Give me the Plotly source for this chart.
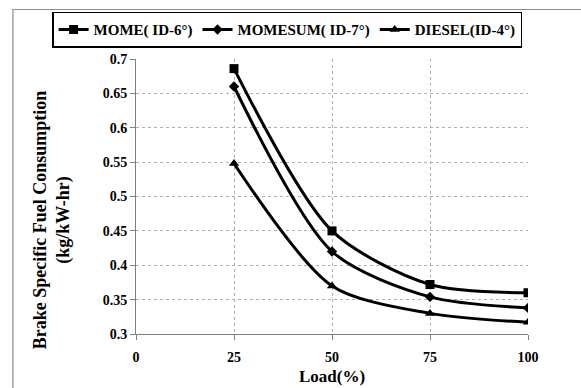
import plotly.graph_objects as go

load = [25, 50, 75, 100]
mome = [0.686, 0.450, 0.372, 0.360]
momesum = [0.660, 0.420, 0.354, 0.338]
diesel = [0.548, 0.370, 0.330, 0.317]
names = ["MOME( ID-6°)", "MOMESUM( ID-7°)", "DIESEL(ID-4°)"]
symbols = ["square", "diamond", "triangle-up"]
sizes = [9, 8, 9]
x_ticks = [0, 25, 50, 75, 100]
y_ticks = [0.3, 0.35, 0.4, 0.45, 0.5, 0.55, 0.6, 0.65, 0.7]
y_labels = ["0.3", "0.35", "0.4", "0.45", "0.5", "0.55", "0.6", "0.65", "0.7"]
y_title = "Brake Specific Fuel Consumption<br>(kg/kW-hr)"
x_title = "Load(%)"

FONT = "Liberation Serif"

fig = go.Figure()
for ys, nm, sym, sz in zip([mome, momesum, diesel], names, symbols, sizes):
    fig.add_trace(go.Scatter(
        x=load, y=ys, name="<b>" + nm + "</b>", mode="lines+markers",
        line=dict(color="black", width=3, shape="spline", smoothing=0.8),
        marker=dict(symbol=sym, size=sz, color="black"),
    ))

fig.update_layout(
    width=581, height=388,
    margin=dict(l=136, r=53, t=56, b=54),
    paper_bgcolor="white", plot_bgcolor="white",
    font=dict(family=FONT, color="black", size=14),
    showlegend=True,
    legend=dict(
        orientation="h", x=-0.214, y=1.172, xanchor="left", yanchor="top",
        bordercolor="black", borderwidth=1.5,
        font=dict(family=FONT, size=15, color="black"),
        itemwidth=30, tracegroupgap=0,
    ),
    shapes=[dict(type="rect", xref="paper", yref="paper",
                 x0=-0.314, x1=1.2, y0=-0.3, y1=1.18,
                 line=dict(color="#8c8c8c", width=1.2))],
    annotations=[
        dict(text="<b>" + y_title + "</b>", xref="paper", yref="paper",
             x=-0.214, y=0.414, xanchor="center", yanchor="middle",
             showarrow=False, textangle=-90,
             font=dict(family=FONT, size=18, color="black")),
        dict(text="<b>" + x_title + "</b>", xref="paper", yref="paper",
             x=0.5, y=-0.154, xanchor="center", yanchor="middle",
             showarrow=False, font=dict(family=FONT, size=17, color="black")),
    ],
)

fig.update_xaxes(
    range=[0, 100], tickvals=x_ticks, ticktext=["<b>%d</b>" % v for v in x_ticks],
    showline=True, linecolor="#808080", linewidth=1,
    ticks="outside", ticklen=5, tickcolor="#808080", ticklabelstandoff=5,
    showgrid=True, gridcolor="#b0b0b0", griddash="dot", gridwidth=1,
    zeroline=False, automargin=False,
    tickfont=dict(family=FONT, size=14, color="black"),
)
fig.update_yaxes(
    range=[0.3, 0.7], tickvals=y_ticks, ticktext=["<b>" + s + "</b>" for s in y_labels],
    showline=True, linecolor="#808080", linewidth=1,
    ticks="outside", ticklen=5, tickcolor="#808080",
    showgrid=True, gridcolor="#b0b0b0", griddash="dot", gridwidth=1,
    zeroline=False, automargin=False,
    tickfont=dict(family=FONT, size=14, color="black"),
)

fig.write_html("out.html")
